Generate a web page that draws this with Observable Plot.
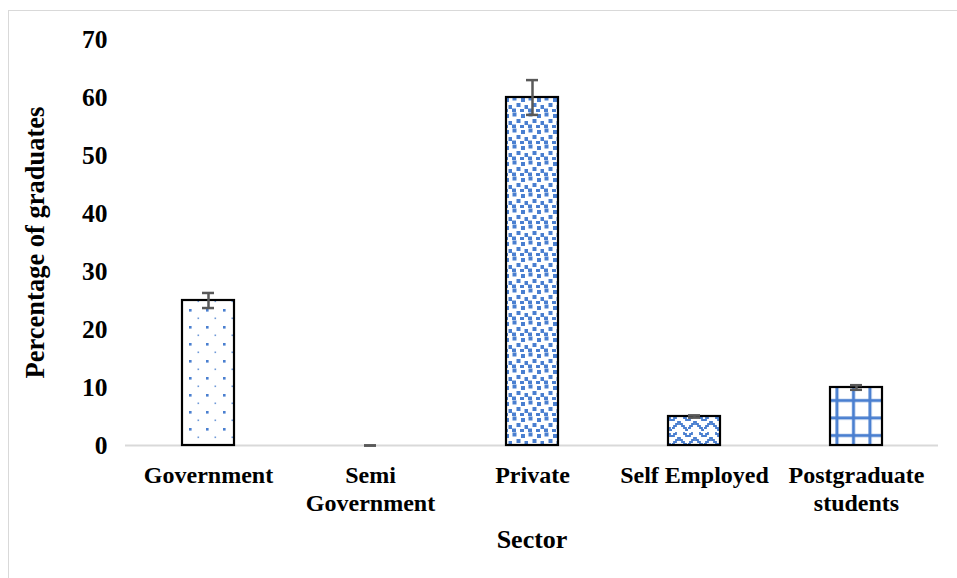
<!DOCTYPE html>
<html>
<head>
<meta charset="utf-8">
<script src="https://cdn.jsdelivr.net/npm/d3@7"></script>
<script src="https://cdn.jsdelivr.net/npm/@observablehq/plot@0.6"></script>
<style>
  html, body { margin: 0; padding: 0; background: #fff; }
  #chart { position: relative; width: 957px; height: 578px; }
  #frame { position: absolute; left: 8px; top: 10px; width: 960px; height: 600px; border: 1.5px solid #d9d9d9; box-sizing: border-box; pointer-events: none; }
</style>
</head>
<body>
<div id="chart"><div id="frame"></div></div>
<script>
const sectors = ["Government", "Semi Government", "Private", "Self Employed", "Postgraduate students"];
const tickLabels = ["Government", "Semi\nGovernment", "Private", "Self Employed", "Postgraduate\nstudents"];
const values = [25, 0, 60, 5, 10];
const errors = [1.3, 0, 3, 0.2, 0.4];
const yTicks = [0, 10, 20, 30, 40, 50, 60, 70];
const patternIds = ["pDots", null, "pSquares", "pWeave", "pGrid"];

const data = sectors.map((s, i) => ({sector: s, value: values[i], err: errors[i], pat: patternIds[i]}));
const labelOf = new Map(sectors.map((s, i) => [s, tickLabels[i]]));

const font = "'Liberation Serif', 'Times New Roman', serif";

const barMarks = data.filter(d => d.pat && d.value > 0).map(d =>
  Plot.barY([d], {x: "sector", y: "value", fill: `url(#${d.pat})`, stroke: "#000", strokeWidth: 2.2})
);

const svg = Plot.plot({
  width: 957,
  height: 578,
  marginLeft: 125,
  marginRight: 19,
  marginTop: 39,
  marginBottom: 133,
  style: {fontFamily: font, background: "transparent", overflow: "visible"},
  x: {domain: sectors, paddingInner: 0.68, paddingOuter: 0.34, label: null},
  y: {domain: [0, 70], label: null},
  marks: [
    Plot.ruleY([0], {stroke: "#d9d9d9", strokeWidth: 2}),
    ...barMarks,
    Plot.ruleX(data, {x: "sector", y1: d => d.value - d.err, y2: d => d.value + d.err, stroke: "#595959", strokeWidth: 2.5}),
    Plot.tickY(data, {x: "sector", y: d => d.value + d.err, stroke: "#595959", strokeWidth: 2.5, insetLeft: 20, insetRight: 20}),
    Plot.tickY(data, {x: "sector", y: d => d.value - d.err, stroke: "#595959", strokeWidth: 2.5, insetLeft: 20, insetRight: 20}),
    Plot.axisY({ticks: yTicks, tickSize: 0, tickPadding: 18, fontSize: 25.5, fontWeight: "bold", fill: "#000",
      label: null}),
    Plot.axisX({tickSize: 0, tickPadding: 18, fontSize: 24, fontWeight: "bold", fill: "#000",
      tickFormat: s => labelOf.get(s), lineHeight: 1.15, label: null}),
    Plot.text(["Percentage of graduates"], {frameAnchor: "left", textAnchor: "middle", dx: -90, rotate: -90, fontSize: 26.5, fontWeight: "bold", fill: "#000"}),
    Plot.text(["Sector"], {frameAnchor: "bottom", dy: 102, fontSize: 26, fontWeight: "bold", fill: "#000"})
  ]
});

const defs = `
<pattern id="pDots" patternUnits="userSpaceOnUse" width="17" height="17" patternTransform="translate(2,3)">
  <rect width="17" height="17" fill="#fff"/>
  <rect x="0" y="0" width="2.6" height="2.6" fill="#4a7fd0"/>
  <rect x="8.5" y="8.5" width="1.6" height="1.6" fill="#6f9ad8"/>
</pattern>
<pattern id="pSquares" patternUnits="userSpaceOnUse" width="16" height="16">
  <rect width="16" height="16" fill="#fff"/>
  <rect x="0.5" y="0.5" width="4" height="4" fill="#4a7fd0"/>
  <rect x="9" y="2" width="4" height="4" fill="#4a7fd0"/>
  <rect x="4.5" y="7" width="4" height="4" fill="#4a7fd0"/>
  <rect x="12.5" y="9" width="4" height="4" fill="#4a7fd0"/>
  <rect x="0" y="12.5" width="4" height="3.5" fill="#4a7fd0"/>
  <rect x="8" y="13" width="4" height="3" fill="#4a7fd0"/>
</pattern>
<pattern id="pWeave" patternUnits="userSpaceOnUse" width="16" height="16">
  <rect width="16" height="16" fill="#fff"/>
  <path d="M0,12 L2,12 L2,10 L4,10 L4,8 L6,8 L6,6 L8,6 L8,8 L10,8 L10,10 L12,10 L12,12 L14,12 L14,14 L16,14" fill="none" stroke="#4a7fd0" stroke-width="1.8"/>
  <path d="M0,4 L2,4 L2,2 L4,2 L4,0 M12,0 L12,2 L14,2 L14,4 L16,4" fill="none" stroke="#4a7fd0" stroke-width="1.8"/>
</pattern>
<pattern id="pGrid" patternUnits="userSpaceOnUse" width="16.5" height="17.5" patternTransform="translate(3.5,7)">
  <rect width="16.5" height="17.5" fill="#fff"/>
  <rect x="7" y="0" width="3" height="17.5" fill="#4a7fd0"/>
  <rect x="0" y="7" width="16.5" height="3" fill="#4a7fd0"/>
</pattern>`;
const defsEl = document.createElementNS("http://www.w3.org/2000/svg", "defs");
defsEl.innerHTML = defs;
svg.insertBefore(defsEl, svg.firstChild);

document.getElementById("chart").appendChild(svg);
svg.style.position = "absolute";
svg.style.left = "0";
svg.style.top = "0";
</script>
</body>
</html>
